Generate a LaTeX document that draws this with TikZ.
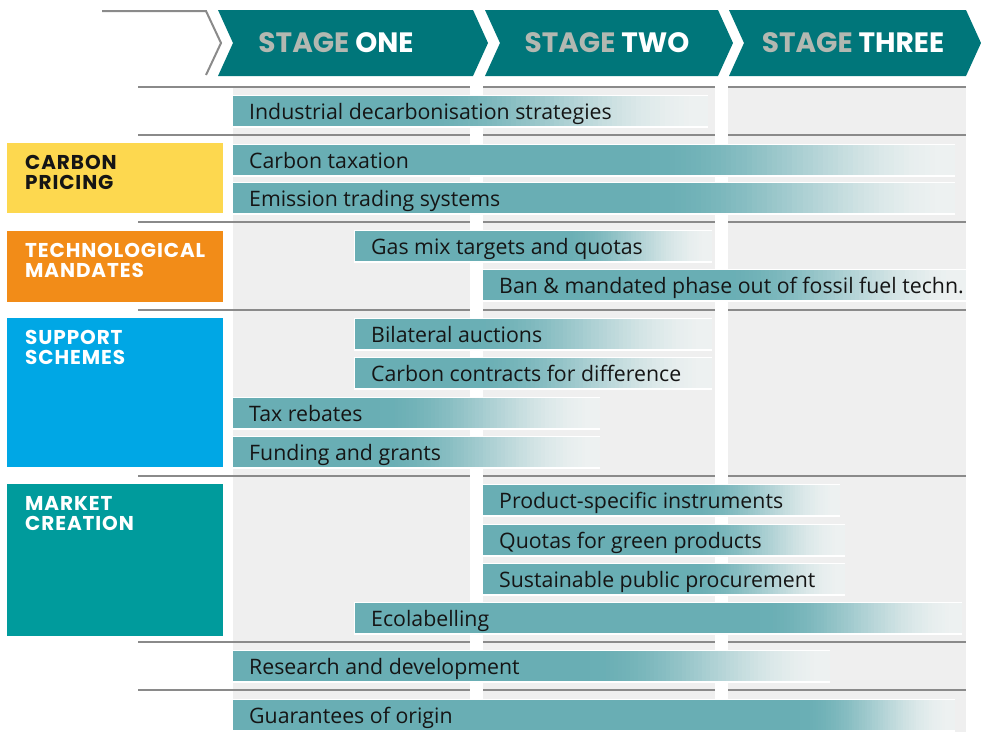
\documentclass[tikz,border=0pt]{standalone}
\usepackage{fontspec}
\setmainfont{Open Sans}
\newfontfamily\headfont{Poppins}
\newfontfamily\catfont{Poppins}[LetterSpace=4.5]
\definecolor{chev}{HTML}{00767A}
\definecolor{stagegray}{HTML}{B3B8B1}
\definecolor{bggray}{HTML}{EFEFEF}
\definecolor{fadeend}{HTML}{EDF1F1}
\definecolor{barteal}{HTML}{69AEB4}
\definecolor{lineg}{HTML}{8A8A8A}
\definecolor{cyellow}{HTML}{FDD84F}
\definecolor{corange}{HTML}{F28C18}
\definecolor{cblue}{HTML}{00A7E5}
\definecolor{cteal}{HTML}{009B9C}
\definecolor{ink}{HTML}{151515}
\tikzset{
  stagetxt/.style={inner sep=0pt, text=white, font=\headfont\bfseries\fontsize{28}{28}\selectfont},
  cattxt/.style={inner sep=0pt, anchor=north west, align=left, font=\catfont\bfseries\fontsize{20}{20}\selectfont},
  catbox/.style={inner sep=0pt, anchor=north west, minimum width=216pt},
  bartext/.style={inner sep=0pt, anchor=base west, text=ink, font=\fontsize{21.3}{21.3}\selectfont},
  sepline/.style={draw=lineg, line width=1.3pt},
}
\newcommand\chevron[2]{%
  \fill[chev] (#1,10) -- (#2,10) -- (#2+15,43) -- (#2,76) -- (#1,76) -- (#1+15,43) -- cycle;}
\newcommand\mybar[6]{% name, x0, ytop, solid end, fade end, text
  \fill[white] (#2-1.5,#3-1.5) rectangle (#5,#3+31.5);
  \fill[barteal] (#2,#3) rectangle (#4+0.5,#3+30);
  \pgfmathsetmacro\stepw{(#5-#4)/60}%
  \foreach \k in {0,...,59}{%
    \pgfmathsetmacro\xa{#4+\stepw*\k}%
    \pgfmathsetmacro\xb{\xa+\stepw+0.4}%
    \pgfmathsetmacro\tq{(\k+0.5)/60}%
    \pgfmathtruncatemacro\pc{100-100*\tq*\tq*(3-2*\tq)}%
    \fill[barteal!\pc!fadeend] (\xa,#3) rectangle (\xb,#3+30);
  }
  \node[bartext] (#1) at (#2+16,#3+23.5) {#6};}
\begin{document}
\begin{tikzpicture}[x=1pt, y=-1pt]
\useasboundingbox (0,0) rectangle (981,732);
% header
\draw[lineg, line width=2pt, line join=miter] (102,11) -- (206,11) -- (221,43) -- (206,75);
\chevron{218}{473}
\chevron{485}{718}
\chevron{729}{966}
\node[stagetxt] (s1) at (336,43) {\textcolor{stagegray}{STAGE} ONE};
\node[stagetxt] (s2) at (607,43) {\textcolor{stagegray}{STAGE} TWO};
\node[stagetxt] (s3) at (853,43) {\textcolor{stagegray}{STAGE} THREE};
% grey columns
\fill[bggray] (233,87) rectangle (470,732);
\fill[bggray] (483,87) rectangle (715,732);
\fill[bggray] (728,87) rectangle (966,732);
% separator lines
\foreach \yy in {87,135,222,310,476,642,690}
  \draw[sepline] (138,\yy) -- (966,\yy);
\fill[white] (470,84) rectangle (483,732);
\fill[white] (715,84) rectangle (728,732);
% category boxes
\node[catbox, fill=cyellow, minimum height=70pt] (cpbox) at (7,143) {};
\node[catbox, fill=corange, minimum height=71pt] (tmbox) at (7,231) {};
\node[catbox, fill=cblue, minimum height=149pt] (ssbox) at (7,318) {};
\node[catbox, fill=cteal, minimum height=152pt] (mcbox) at (7,484) {};
\node[cattxt, text=ink] (cp) at (25,155) {CARBON\\PRICING};
\node[cattxt, text=white] (tm) at (25,243) {TECHNOLOGICAL\\MANDATES};
\node[cattxt, text=white] (ss) at (25,330) {SUPPORT\\SCHEMES};
\node[cattxt, text=white] (mc) at (25,496) {MARKET\\CREATION};
% bars
\mybar{b1}{233}{96}{420}{708}{Industrial decarbonisation strategies}
\mybar{b2}{233}{145}{650}{955}{Carbon taxation}
\mybar{b3}{233}{183}{650}{955}{Emission trading systems}
\mybar{b4}{355}{231}{560}{712}{Gas mix targets and quotas}
\mybar{b5}{483}{270}{720}{966}{Ban \& mandated phase out of fossil fuel techn.}
\mybar{b6}{355}{319}{470}{712}{Bilateral auctions}
\mybar{b7}{355}{358}{470}{712}{Carbon contracts for difference}
\mybar{b8}{233}{398}{380}{600}{Tax rebates}
\mybar{b9}{233}{437}{380}{600}{Funding and grants}
\mybar{b10}{483}{485}{690}{840}{Product-specific instruments}
\mybar{b11}{483}{525}{690}{845}{Quotas for green products}
\mybar{b12}{483}{564}{690}{845}{Sustainable public procurement}
\mybar{b13}{355}{603}{760}{962}{Ecolabelling}
\mybar{b14}{233}{651}{590}{830}{Research and development}
\mybar{b15}{233}{700}{800}{955}{Guarantees of origin}
\end{tikzpicture}
\end{document}
